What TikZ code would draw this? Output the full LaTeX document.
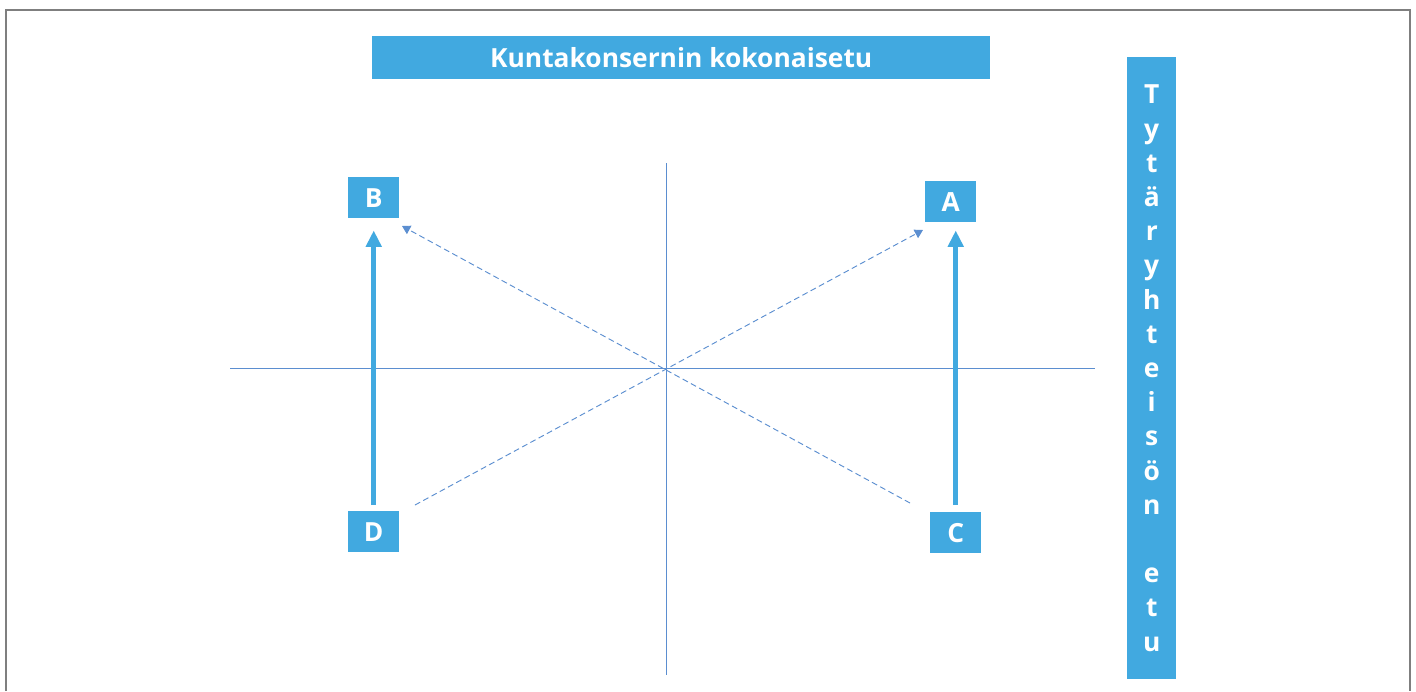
\documentclass[tikz,border=0pt]{standalone}
\usepackage{fontspec}
\setmainfont{Open Sans}
\usetikzlibrary{arrows.meta}
\definecolor{boxblue}{HTML}{41A9E0}
\definecolor{axisblue}{HTML}{5B8ED0}
\definecolor{frame}{HTML}{7F7F7F}
\newlength{\unitpx}
\setlength{\unitpx}{0.03cm}
\tikzset{
  lbl/.style={fill=boxblue, text=white, font=\bfseries\fontsize{22.5}{26}\selectfont,
    inner sep=0pt, minimum width=51\unitpx, minimum height=41\unitpx, anchor=north west},
  axis/.style={draw=axisblue, line width=0.8pt},
  move/.style={draw=boxblue, line width=4.6pt, -{Triangle[width=13pt,length=14pt]}},
  cross/.style={draw=axisblue, line width=0.8pt, dash pattern=on 5pt off 3pt,
    -{Triangle[width=8pt,length=7pt]}},
}
\begin{document}
\begin{tikzpicture}[x=0.03cm, y=-0.03cm]
\useasboundingbox (0,0) rectangle (1416,691);
% outer frame, open at the bottom
\draw[frame, line width=1.6pt] (6,691) -- (6,10) -- (1410,10) -- (1410,691);

% title bar
\node[fill=boxblue, text=white, font=\bfseries\fontsize{22.5}{26}\selectfont,
  minimum width=618\unitpx, minimum height=43\unitpx, inner sep=0pt, anchor=north west]
  (title) at (372,36) {Kuntakonsernin kokonaisetu};

% side bar with vertical text
\node[fill=boxblue, text=white, font=\bfseries\fontsize{22.5}{29.2}\selectfont,
  minimum width=49\unitpx, minimum height=622\unitpx, inner sep=0pt, anchor=north west,
  align=center] (side) at (1127,57)
  {T\\y\\t\\ä\\r\\y\\h\\t\\e\\i\\s\\ö\\n\\[29.2pt]e\\t\\u};

% axes
\coordinate (xl) at (230,368);
\coordinate (xr) at (1095,368);
\coordinate (yt) at (666,163);
\coordinate (yb) at (666,675);
\draw[axis] (xl) -- (xr);
\draw[axis] (yt) -- (yb);

% quadrant labels
\node[lbl] (B) at (348,177) {B};
\node[lbl] (A) at (925,181) {A};
\node[lbl] (D) at (348,511) {D};
\node[lbl] (C) at (930,512) {C};

% vertical moves
\draw[move] ([yshift=6\unitpx]D.north) -- ([yshift=-12\unitpx]B.south);
\draw[move] ([yshift=7\unitpx]C.north) -- ([yshift=-8\unitpx]C.north |- A.south);

% diagonal moves
\coordinate (ds) at (415,505);
\coordinate (cs) at (910,503);
\coordinate (ae) at (923,230);
\coordinate (be) at (402,226);
\draw[cross] (ds) -- (ae);
\draw[cross] (cs) -- (be);
\end{tikzpicture}
\end{document}
